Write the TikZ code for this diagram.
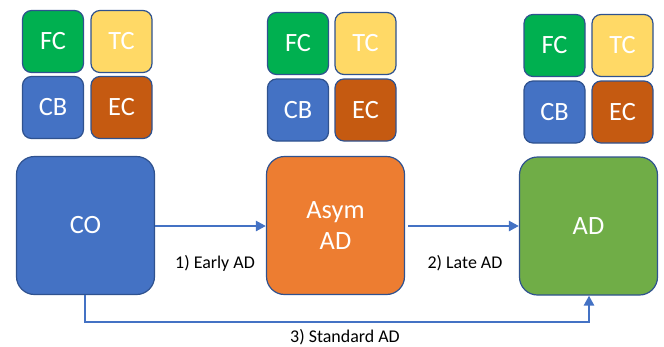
\documentclass[tikz,border=0pt]{standalone}
\usepackage{fontspec}
\setmainfont{Carlito}
\usetikzlibrary{arrows.meta}
\definecolor{cgreen}{HTML}{00B050}
\definecolor{cyellow}{HTML}{FFD966}
\definecolor{cblue}{HTML}{4472C4}
\definecolor{cbrown}{HTML}{C55A11}
\definecolor{corange}{HTML}{ED7D31}
\definecolor{clgreen}{HTML}{70AD47}
\definecolor{cedge}{HTML}{2F528F}
\begin{document}
\begin{tikzpicture}[x=1bp,y=-1bp,
  tile/.style={draw=cedge,line width=1.2bp,rounded corners=9bp,minimum width=61bp,minimum height=62bp,inner sep=0pt,text=white,font=\fontsize{26.5}{30}\selectfont},
  bigbox/.style={draw=cedge,line width=1.2bp,rounded corners=18bp,minimum width=138bp,minimum height=138bp,inner sep=0pt,text=white,font=\fontsize{26.5}{31}\selectfont,align=center},
  flow/.style={draw=cblue,line width=2.4bp,-{Triangle[length=10bp,width=10bp]}},
  lbl/.style={font=\fontsize{18}{22}\selectfont,text=black}]
\useasboundingbox (0,0) rectangle (664,346);
% group 1
\node[tile,fill=cgreen] (fc1) at (53,41.5) {FC};
\node[tile,fill=cyellow] (tc1) at (121.5,41.5) {TC};
\node[tile,fill=cblue] (cb1) at (53,107.5) {CB};
\node[tile,fill=cbrown] (ec1) at (121.5,107.5) {EC};
% group 2
\node[tile,fill=cgreen] (fc2) at (298,43.5) {FC};
\node[tile,fill=cyellow] (tc2) at (365.5,43.5) {TC};
\node[tile,fill=cblue] (cb2) at (298,110) {CB};
\node[tile,fill=cbrown] (ec2) at (365.5,110) {EC};
% group 3
\node[tile,fill=cgreen] (fc3) at (554.5,45.5) {FC};
\node[tile,fill=cyellow] (tc3) at (622.5,45.5) {TC};
\node[tile,fill=cblue] (cb3) at (554.5,112) {CB};
\node[tile,fill=cbrown] (ec3) at (622.5,112) {EC};
% big boxes
\node[bigbox,fill=cblue] (co) at (85.5,225.5) {CO};
\node[bigbox,fill=corange] (asym) at (335.5,225.5) {Asym\\AD};
\node[bigbox,fill=clgreen] (ad) at (588.5,226) {AD};
\coordinate (a2s) at (408,226);
\coordinate (c3) at (85,322);
\coordinate (c4) at (589,322);
% connectors
\draw[flow] (co.east |- 0,226) -- (asym.west |- 0,226);
\draw[flow] (a2s) -- (ad.west |- a2s);
\draw[flow] (co.south -| c3) -- (c3) -- (c4) -- (ad.south -| c4);
% labels
\node[lbl] (l1) at (215,263) {1) Early AD};
\node[lbl] (l2) at (465,263) {2) Late AD};
\node[lbl] (l3) at (345,337) {3) Standard AD};
\end{tikzpicture}
\end{document}
